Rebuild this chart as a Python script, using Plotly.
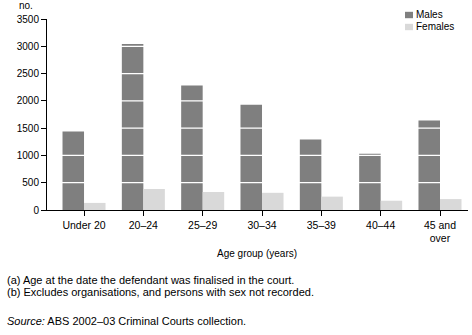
import plotly.graph_objects as go

# Defendants finalised by age group and sex
age_groups = ["Under 20", "20–24", "25–29", "30–34", "35–39", "40–44", "45 and<br>over"]
males = [1440, 3040, 2280, 1930, 1290, 1030, 1640]
females = [130, 385, 330, 315, 245, 170, 200]
y_ticks = [0, 500, 1000, 1500, 2000, 2500, 3000, 3500]

MALE_COLOR = "#7f7f7f"
FEMALE_COLOR = "#d9d9d9"

W, H = 472, 335
L, R, T, B = 47, 4, 19, 125
pw, ph = W - L - R, H - T - B

FONT = "Liberation Sans, Arial, sans-serif"


def px_x(x):
    return (x - L) / pw


def px_y(y):
    return (H - B - y) / ph


fig = go.Figure()
fig.add_trace(go.Bar(x=age_groups, y=males, name="Males",
                     marker=dict(color=MALE_COLOR, line=dict(width=0))))
fig.add_trace(go.Bar(x=age_groups, y=females, name="Females",
                     marker=dict(color=FEMALE_COLOR, line=dict(width=0))))

# white reference lines drawn across the bars
shapes = [dict(type="line", xref="paper", yref="y", x0=0, x1=1, y0=v, y1=v,
               line=dict(color="white", width=1.2), layer="above")
          for v in y_ticks[1:-1]]

# compact legend: small swatches with labels beside them
legend_items = [("Males", MALE_COLOR, 15), ("Females", FEMALE_COLOR, 27)]
for label, color, cy in legend_items:
    shapes.append(dict(type="rect", xref="paper", yref="paper",
                       x0=px_x(405), x1=px_x(413), y0=px_y(cy - 3.2), y1=px_y(cy + 3.2),
                       fillcolor=color, line=dict(width=0), layer="above"))

annotations = [
    dict(text="no.", x=px_x(26), y=px_y(5), xanchor="center", yanchor="middle", size=10),
    dict(text="Age group (years)", x=px_x(257), y=px_y(253), xanchor="center", yanchor="middle", size=10),
    dict(text="(a) Age at the date the defendant was finalised in the court.",
         x=px_x(5), y=px_y(280), xanchor="left", yanchor="middle", size=11),
    dict(text="(b) Excludes organisations, and persons with sex not recorded.",
         x=px_x(5), y=px_y(292), xanchor="left", yanchor="middle", size=11),
    dict(text="<i>Source:</i> ABS 2002–03 Criminal Courts collection.",
         x=px_x(5), y=px_y(321), xanchor="left", yanchor="middle", size=11),
]
for label, color, cy in legend_items:
    annotations.append(dict(text=label, x=px_x(414), y=px_y(cy - 0.5),
                            xanchor="left", yanchor="middle", size=10))
for a in annotations:
    size = a.pop("size")
    a.update(xref="paper", yref="paper", showarrow=False,
             font=dict(family=FONT, size=size, color="#000000"))

fig.update_layout(
    width=W, height=H,
    margin=dict(l=L, r=R, t=T, b=B, pad=0),
    paper_bgcolor="white", plot_bgcolor="white",
    font=dict(family=FONT, size=10, color="#000000"),
    barmode="group", bargap=0.275, bargroupgap=0,
    showlegend=False,
    shapes=shapes,
    annotations=annotations,
)
fig.update_xaxes(
    type="category", range=[-0.624, 6.472],
    showline=True, linecolor="#000000", linewidth=1,
    ticks="outside", ticklen=5, tickcolor="#000000", tickwidth=1,
    showgrid=False, zeroline=False,
    tickfont=dict(family=FONT, size=10.5),
)
fig.update_yaxes(
    range=[0, 3500], tickvals=y_ticks,
    showline=True, linecolor="#000000", linewidth=1,
    ticks="outside", ticklen=5, tickcolor="#000000", tickwidth=1,
    showgrid=False, zeroline=False,
    tickfont=dict(family=FONT, size=10),
)

fig.write_html("out.html")
